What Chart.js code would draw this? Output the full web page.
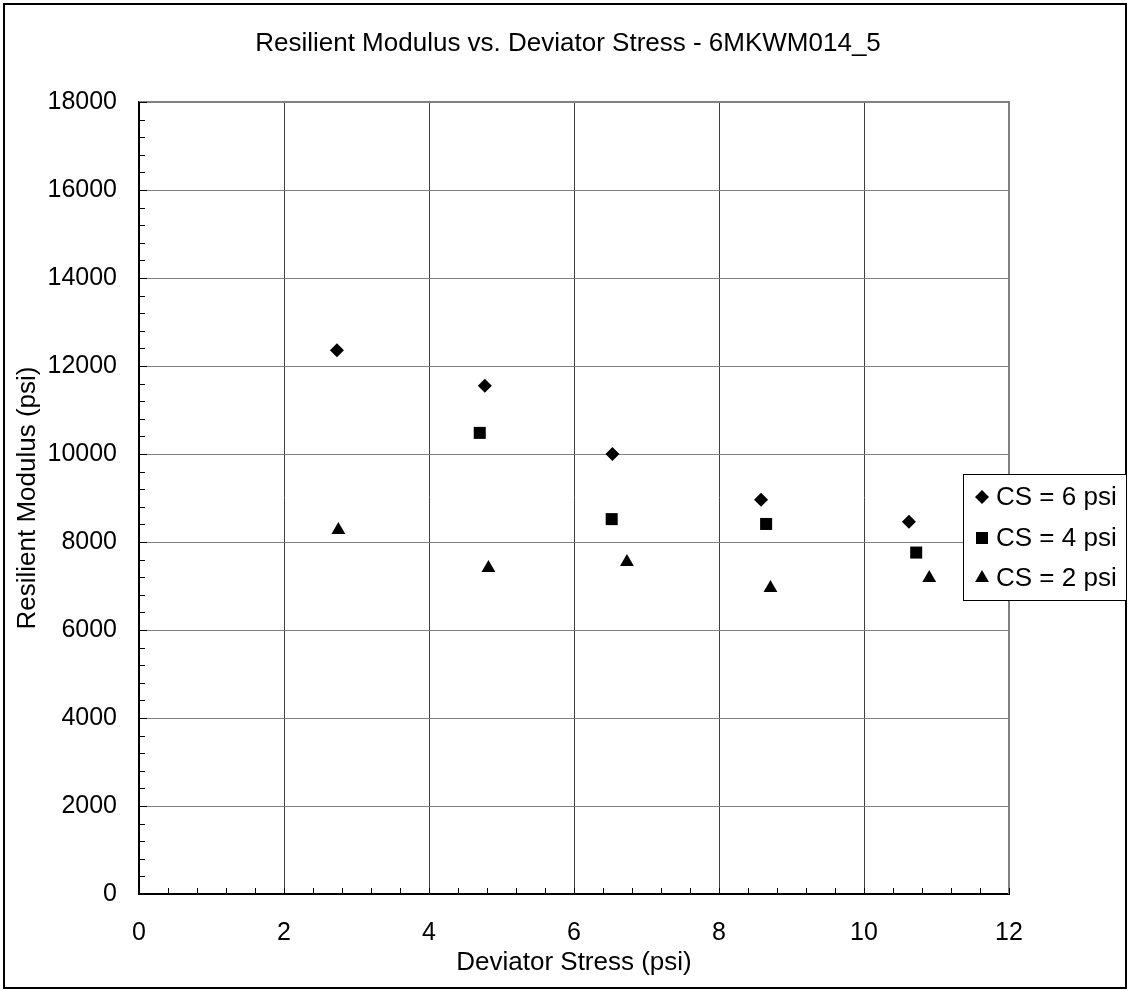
<!DOCTYPE html>
<html>
<head>
<meta charset="utf-8">
<title>Resilient Modulus vs. Deviator Stress</title>
<script src="https://cdn.jsdelivr.net/npm/chart.js@4.4.1/dist/chart.umd.min.js"></script>
<style>
  html, body { margin: 0; padding: 0; background: #fff; }
  #wrap { width: 1130px; height: 991px; position: relative; }
</style>
</head>
<body>
<div id="wrap"><canvas id="modulusChart"></canvas></div>
<script>
var chartTitle = "Resilient Modulus vs. Deviator Stress - 6MKWM014_5";

// CS = 6 psi
var devStress6 = [2.73, 4.77, 6.53, 8.58, 10.62];
var modulus6 = [12360, 11550, 10000, 8960, 8460];

// CS = 4 psi
var devStress4 = [4.70, 6.52, 8.65, 10.72];
var modulus4 = [10480, 8520, 8410, 7760];

// CS = 2 psi
var devStress2 = [2.75, 4.82, 6.73, 8.71, 10.90];
var modulus2 = [8270, 7410, 7545, 6955, 7180];

var seriesLabels = ["CS = 6 psi", "CS = 4 psi", "CS = 2 psi"];
var xTicks = [0, 2, 4, 6, 8, 10, 12];
var yTicks = [0, 2000, 4000, 6000, 8000, 10000, 12000, 14000, 16000, 18000];

var fontFamily = "'Liberation Sans', Arial, sans-serif";

function toPoints(xs, ys) {
    var pts = [];
    for (var i = 0; i < xs.length; i++) {
        pts.push({x: xs[i], y: ys[i]});
    }
    return pts;
}

// frame, title, minor ticks and the boxed legend
var excelLook = {
    id: 'excelLook',
    beforeDraw: function(chart) {
        var ctx = chart.ctx;
        ctx.save();
        ctx.fillStyle = '#fff';
        ctx.fillRect(0, 0, chart.width, chart.height);
        ctx.strokeStyle = '#000';
        ctx.lineWidth = 2;
        ctx.strokeRect(4, 4, chart.width - 8, chart.height - 7);

        ctx.fillStyle = '#000';
        ctx.font = '26px ' + fontFamily;
        ctx.textAlign = 'center';
        ctx.textBaseline = 'middle';
        ctx.fillText(chartTitle, chart.width / 2 + 3, 44);
        ctx.restore();
    },
    beforeDatasetsDraw: function(chart) {
        var ctx = chart.ctx;
        var a = chart.chartArea;
        var xs = chart.scales.x;
        var ys = chart.scales.y;
        ctx.save();
        // gray top/right edge of the plot area
        ctx.strokeStyle = '#808080';
        ctx.lineWidth = 2;
        ctx.beginPath();
        ctx.moveTo(a.left, a.top);
        ctx.lineTo(a.right, a.top);
        ctx.lineTo(a.right, a.bottom);
        ctx.stroke();

        ctx.strokeStyle = '#000';
        ctx.lineWidth = 1;
        ctx.beginPath();
        var v, p;
        for (v = 0; v <= 12.001; v += 0.4) {
            p = Math.round(xs.getPixelForValue(v)) + 0.5;
            ctx.moveTo(p, a.bottom);
            ctx.lineTo(p, a.bottom - 6);
        }
        for (v = 0; v <= 18000; v += 400) {
            p = Math.round(ys.getPixelForValue(v)) + 0.5;
            var len = (v % 2000 === 0) ? 8 : 6;
            ctx.moveTo(a.left, p);
            ctx.lineTo(a.left + len, p);
        }
        ctx.stroke();
        ctx.restore();
    },
    afterDraw: function(chart) {
        var ctx = chart.ctx;
        ctx.save();
        var bx = 963, by = 474, bw = 163, bh = 126;
        ctx.fillStyle = '#fff';
        ctx.fillRect(bx, by, bw, bh);
        ctx.strokeStyle = '#000';
        ctx.lineWidth = 1;
        ctx.strokeRect(bx + 0.5, by + 0.5, bw, bh);

        ctx.font = '26px ' + fontFamily;
        ctx.textAlign = 'left';
        ctx.textBaseline = 'middle';
        var rowY = [497, 538, 578];
        chart.data.datasets.forEach(function(ds, i) {
            ctx.fillStyle = '#000';
            ctx.strokeStyle = '#000';
            Chart.helpers.drawPoint(ctx, {
                pointStyle: ds.pointStyle,
                radius: ds.pointRadius,
                rotation: 0,
                borderWidth: 0
            }, 982, rowY[i]);
            ctx.fillStyle = '#000';
            ctx.fillText(ds.label, 996, rowY[i] + 1);
        });
        ctx.restore();
    }
};

var ctx = document.getElementById("modulusChart").getContext('2d');

var myChart = new Chart(ctx, {
    type: 'scatter',
    data: {
        datasets: [{
            label: seriesLabels[0],
            data: toPoints(devStress6, modulus6),
            pointStyle: 'rectRot',
            pointRadius: 7,
            backgroundColor: '#000',
            borderColor: '#000',
            borderWidth: 0
        }, {
            label: seriesLabels[1],
            data: toPoints(devStress4, modulus4),
            pointStyle: 'rect',
            pointRadius: 8.5,
            backgroundColor: '#000',
            borderColor: '#000',
            borderWidth: 0
        }, {
            label: seriesLabels[2],
            data: toPoints(devStress2, modulus2),
            pointStyle: 'triangle',
            pointRadius: 8,
            backgroundColor: '#000',
            borderColor: '#000',
            borderWidth: 0
        }]
    },
    options: {
        responsive: true,
        maintainAspectRatio: false,
        animation: false,
        layout: {
            padding: {top: 102, right: 121, bottom: 0, left: 0}
        },
        plugins: {
            legend: {display: false},
            title: {display: false},
            tooltip: {enabled: false}
        },
        scales: {
            x: {
                type: 'linear',
                min: 0,
                max: 12,
                afterBuildTicks: function(scale) {
                    scale.ticks = xTicks.map(function(v) { return {value: v}; });
                },
                afterFit: function(scale) { scale.height = 97; },
                ticks: {
                    color: '#000',
                    padding: 24,
                    maxRotation: 0,
                    font: {family: fontFamily, size: 25},
                    callback: function(value) { return String(value); }
                },
                grid: {color: '#404040', lineWidth: 1, drawTicks: false},
                border: {color: '#000', width: 2},
                title: {
                    display: true,
                    text: 'Deviator Stress (psi)',
                    color: '#000',
                    font: {family: fontFamily, size: 26},
                    padding: {top: 0, bottom: 13}
                }
            },
            y: {
                type: 'linear',
                min: 0,
                max: 18000,
                afterBuildTicks: function(scale) {
                    scale.ticks = yTicks.map(function(v) { return {value: v}; });
                },
                afterFit: function(scale) { scale.width = 139; },
                ticks: {
                    color: '#000',
                    padding: 22,
                    font: {family: fontFamily, size: 25},
                    callback: function(value) { return String(value); }
                },
                grid: {color: '#808080', lineWidth: 1, drawTicks: false},
                border: {color: '#000', width: 2},
                title: {
                    display: true,
                    text: 'Resilient Modulus (psi)',
                    color: '#000',
                    font: {family: fontFamily, size: 26},
                    padding: {top: 12, bottom: 0}
                }
            }
        }
    },
    plugins: [excelLook]
});
</script>
</body>
</html>
